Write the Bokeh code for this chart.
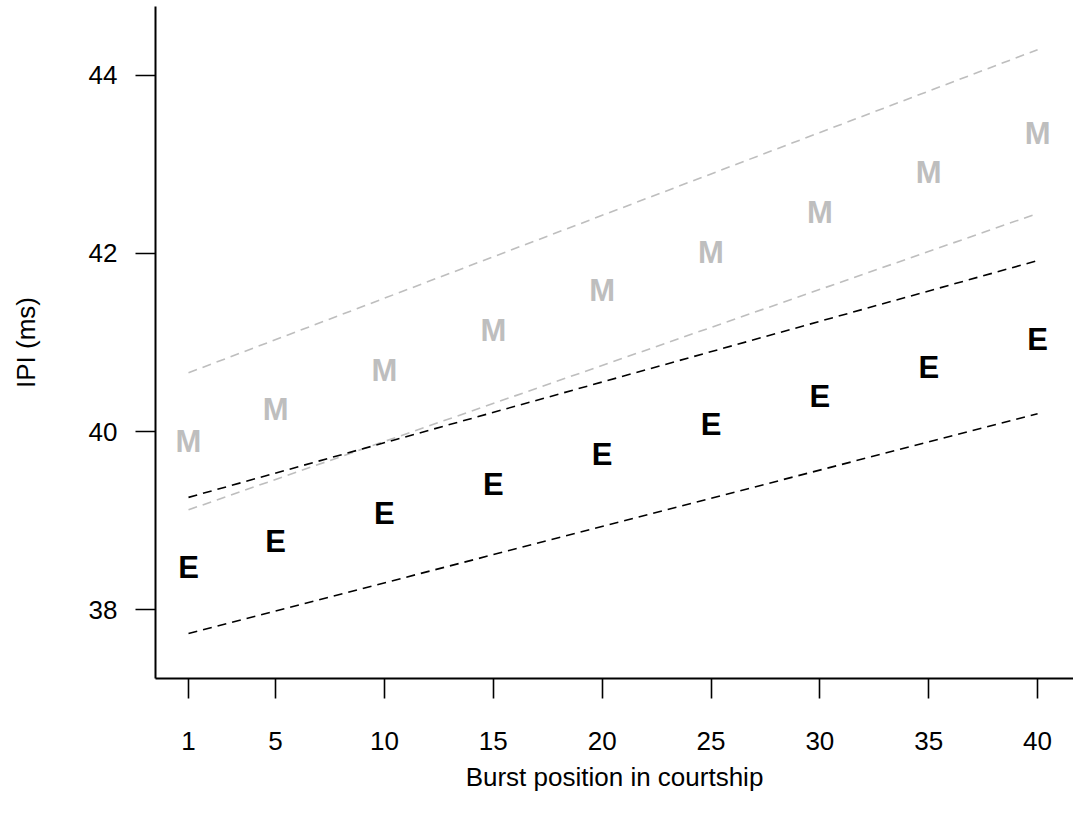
from bokeh.plotting import figure
from bokeh.models import Range1d, FixedTicker, ColumnDataSource
from bokeh.core.properties import value
from bokeh.embed import file_html
from bokeh.resources import INLINE

# Data
positions = [1, 5, 10, 15, 20, 25, 30, 35, 40]
ipi_M = [39.89, 40.25, 40.69, 41.13, 41.58, 42.01, 42.46, 42.91, 43.35]
ipi_E = [38.47, 38.76, 39.08, 39.40, 39.74, 40.08, 40.39, 40.72, 41.03]
line_x = [1, 40]
M_upper = [40.66, 44.29]
M_lower = [39.12, 42.45]
E_upper = [39.26, 41.92]
E_lower = [37.73, 40.20]
x_ticks = [1, 5, 10, 15, 20, 25, 30, 35, 40]
y_ticks = [38, 40, 42, 44]

FONT = "Liberation Sans"
GRAY = "#BEBEBE"

p = figure(width=1073, height=818, output_backend="svg", toolbar_location=None,
           x_range=Range1d(-0.516, 41.65), y_range=Range1d(37.225, 44.775),
           min_border_left=155, min_border_right=0, min_border_top=6, min_border_bottom=140)
p.grid.visible = False
p.outline_line_color = None
p.background_fill_color = "white"
p.border_fill_color = "white"

for ax in (p.xaxis[0], p.yaxis[0]):
    ax.axis_line_width = 2
    ax.axis_line_color = "black"
    ax.major_tick_out = 20
    ax.major_tick_in = 0
    ax.major_tick_line_width = 1.6
    ax.major_tick_line_color = "black"
    ax.minor_tick_line_color = None
    ax.major_label_text_font = FONT
    ax.major_label_text_font_size = "26px"
    ax.major_label_text_color = "black"
    ax.axis_label_text_font = FONT
    ax.axis_label_text_font_size = "26px"
    ax.axis_label_text_font_style = "normal"
    ax.axis_label_text_color = "black"

p.xaxis.ticker = FixedTicker(ticks=x_ticks)
p.yaxis.ticker = FixedTicker(ticks=y_ticks)
p.xaxis.axis_label = "Burst position in courtship"
p.yaxis.axis_label = "IPI (ms)"
p.xaxis.major_label_standoff = 33
p.xaxis.axis_label_standoff = 9
p.yaxis.major_label_standoff = 18
p.yaxis.axis_label_standoff = 45
p.yaxis.major_label_orientation = "horizontal"

# regression / CI lines
p.line(line_x, M_upper, line_color=GRAY, line_width=1.6, line_dash="9 6")
p.line(line_x, M_lower, line_color=GRAY, line_width=1.6, line_dash="9 6")
p.line(line_x, E_upper, line_color="black", line_width=1.6, line_dash="9 6")
p.line(line_x, E_lower, line_color="black", line_width=1.6, line_dash="9 6")

srcM = ColumnDataSource(dict(x=positions, y=ipi_M, t=["M"] * len(positions)))
srcE = ColumnDataSource(dict(x=positions, y=ipi_E, t=["E"] * len(positions)))
for src, col in ((srcM, GRAY), (srcE, "black")):
    p.text(x="x", y="y", text="t", source=src, text_color=col,
           text_font=value(FONT), text_font_size="31px", text_font_style="bold",
           text_align="center", text_baseline="middle")

open("out.html", "w").write(file_html(p, INLINE))
